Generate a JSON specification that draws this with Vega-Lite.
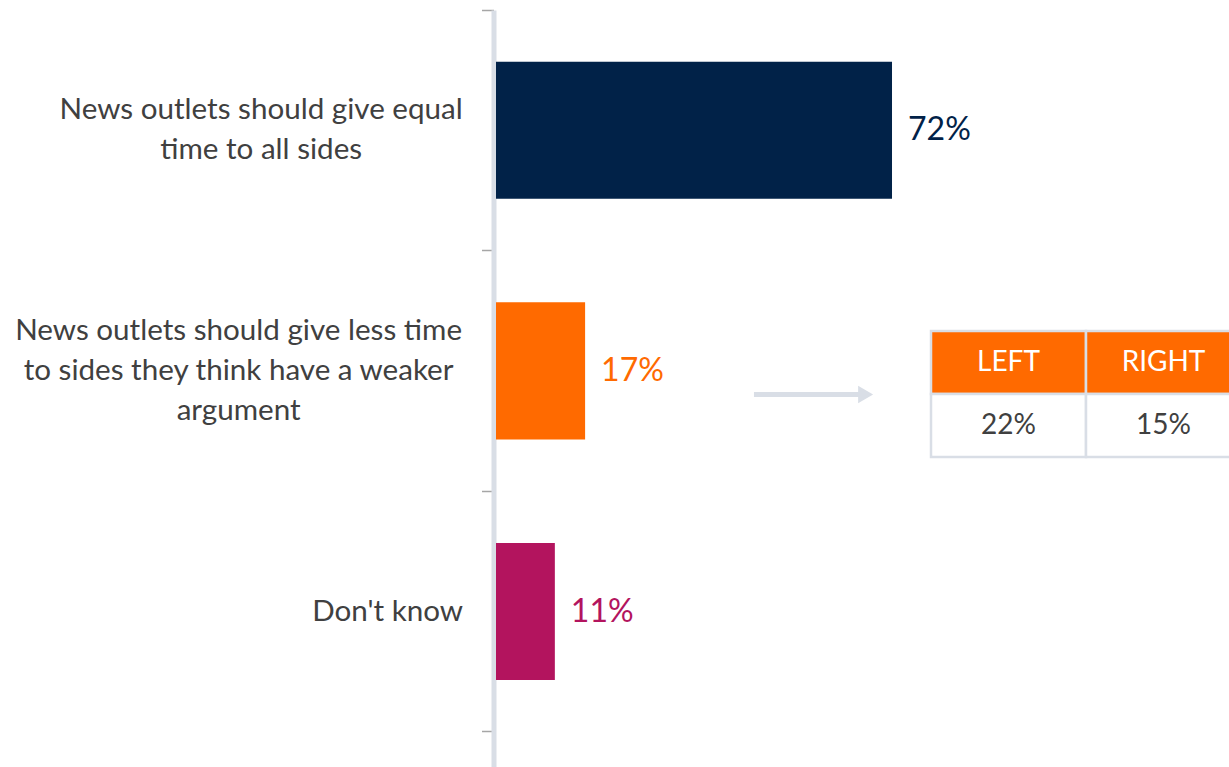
{
  "$schema": "https://vega.github.io/schema/vega-lite/v6.json",
  "width": 733,
  "height": 757,
  "autosize": "none",
  "padding": {"left": 496, "top": 10, "right": 0, "bottom": 0},
  "background": "white",
  "config": {"view": {"stroke": null}},
  "resolve": {"scale": {"x": "independent", "y": "independent"}, "axis": {"x": "independent", "y": "independent"}},
  "layer": [
    {
      "data": {"values": [
        {"key": "equal", "category": "News outlets should give equal\ntime to all sides", "value": 72, "label": "72%"},
        {"key": "less", "category": "News outlets should give less time\nto sides they think have a weaker\nargument", "value": 16.2, "label": "17%"},
        {"key": "dk", "category": "Don't know", "value": 10.7, "label": "11%"}
      ]},
      "encoding": {
        "y": {
          "field": "key", "type": "nominal",
          "scale": {"domain": ["equal", "less", "dk", "end"], "range": [0, 962.4], "paddingInner": 0, "paddingOuter": 0},
          "axis": {"title": null, "labels": false, "bandPosition": 0, "offset": 2.5, "domainColor": "#D9DEE6", "domainWidth": 5, "tickColor": "#A6A6A6", "tickSize": 12, "tickWidth": 1.5}
        }
      },
      "layer": [
        {
          "mark": {"type": "bar", "height": {"band": 0.57}},
          "encoding": {
            "x": {"field": "value", "type": "quantitative", "scale": {"domain": [0, 133.27], "nice": false}, "axis": null},
            "color": {"field": "key", "type": "nominal", "scale": {"domain": ["equal", "less", "dk"], "range": ["#012248", "#FF6A00", "#B3145E"]}, "legend": null}
          }
        },
        {
          "mark": {"type": "text", "align": "left", "baseline": "middle", "dx": 16, "font": "Lato", "fontSize": 32},
          "encoding": {
            "x": {"field": "value", "type": "quantitative"},
            "text": {"field": "label"},
            "color": {"field": "key", "type": "nominal", "legend": null}
          }
        },
        {
          "transform": [{"filter": "datum.key === 'equal'"}],
          "mark": {"type": "text", "align": "center", "baseline": "middle", "dy": -20, "lineBreak": "\n", "lineHeight": 40, "font": "Lato", "fontSize": 29.6, "color": "#404040"},
          "encoding": {"x": {"datum": -42.7, "type": "quantitative"}, "text": {"field": "category"}}
        },
        {
          "transform": [{"filter": "datum.key === 'less'"}],
          "mark": {"type": "text", "align": "center", "baseline": "middle", "dy": -40, "lineBreak": "\n", "lineHeight": 40, "font": "Lato", "fontSize": 29.6, "color": "#404040"},
          "encoding": {"x": {"datum": -46.8, "type": "quantitative"}, "text": {"field": "category"}}
        },
        {
          "transform": [{"filter": "datum.key === 'dk'"}],
          "mark": {"type": "text", "align": "center", "baseline": "middle", "lineBreak": "\n", "lineHeight": 40, "font": "Lato", "fontSize": 29.6, "color": "#404040"},
          "encoding": {"x": {"datum": -19.7, "type": "quantitative"}, "text": {"field": "category"}}
        },
        {
          "data": {"values": [{"part": "arrow"}]},
          "mark": {"type": "rule", "color": "#D9DEE6", "strokeWidth": 5},
          "encoding": {
            "y": {"datum": "less", "type": "nominal", "bandPosition": 0.598},
            "x": {"datum": 46.9, "type": "quantitative"},
            "x2": {"datum": 66.5}
          }
        },
        {
          "data": {"values": [{"part": "arrowhead"}]},
          "mark": {"type": "point", "shape": "triangle-right", "filled": true, "opacity": 1, "color": "#D9DEE6", "size": 300},
          "encoding": {
            "y": {"datum": "less", "type": "nominal", "bandPosition": 0.598},
            "x": {"datum": 67.2, "type": "quantitative"}
          }
        }
      ]
    },
    {
      "data": {"values": [
        {"col": "LEFT", "row": "header", "text": "LEFT"},
        {"col": "RIGHT", "row": "header", "text": "RIGHT"},
        {"col": "LEFT", "row": "body", "text": "22%"},
        {"col": "RIGHT", "row": "body", "text": "15%"}
      ]},
      "encoding": {
        "x": {"field": "col", "type": "nominal", "scale": {"domain": ["LEFT", "RIGHT"], "range": [435, 745], "paddingInner": 0, "paddingOuter": 0}, "axis": null},
        "y": {"field": "row", "type": "nominal", "scale": {"domain": ["header", "body"], "range": [321, 447], "paddingInner": 0, "paddingOuter": 0}, "axis": null}
      },
      "layer": [
        {
          "mark": {"type": "rect", "stroke": "#D9DEE6", "strokeWidth": 2.5},
          "encoding": {"fill": {"condition": {"test": "datum.row === 'header'", "value": "#FF6A00"}, "value": "#FFFFFF"}}
        },
        {
          "mark": {"type": "text", "align": "center", "baseline": "middle", "font": "Lato", "fontSize": 28},
          "encoding": {
            "text": {"field": "text"},
            "color": {"condition": {"test": "datum.row === 'header'", "value": "#FFFFFF"}, "value": "#404040"}
          }
        }
      ]
    }
  ]
}
